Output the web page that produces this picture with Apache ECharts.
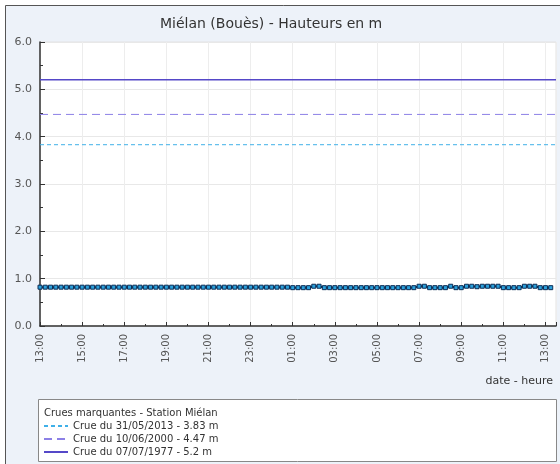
<!DOCTYPE html>
<html><head><meta charset="utf-8">
<script src="https://cdn.jsdelivr.net/npm/echarts@6/dist/echarts.min.js"></script>
<style>html,body{margin:0;padding:0;background:#fff}#c{width:560px;height:464px}</style>
</head><body><div id="c"></div>
<script>
const chartTitle = 'Miélan (Bouès) - Hauteurs en m';
const xAxisName = 'date - heure';
const legendTitle = 'Crues marquantes - Station Miélan';

const times = [
 '13:00','13:15','13:30','13:45','14:00','14:15','14:30','14:45',
 '15:00','15:15','15:30','15:45','16:00','16:15','16:30','16:45',
 '17:00','17:15','17:30','17:45','18:00','18:15','18:30','18:45',
 '19:00','19:15','19:30','19:45','20:00','20:15','20:30','20:45',
 '21:00','21:15','21:30','21:45','22:00','22:15','22:30','22:45',
 '23:00','23:15','23:30','23:45','00:00','00:15','00:30','00:45',
 '01:00','01:15','01:30','01:45','02:00','02:15','02:30','02:45',
 '03:00','03:15','03:30','03:45','04:00','04:15','04:30','04:45',
 '05:00','05:15','05:30','05:45','06:00','06:15','06:30','06:45',
 '07:00','07:15','07:30','07:45','08:00','08:15','08:30','08:45',
 '09:00','09:15','09:30','09:45','10:00','10:15','10:30','10:45',
 '11:00','11:15','11:30','11:45','12:00','12:15','12:30','12:45',
 '13:00','13:15'
];
const levels = [
 0.82,0.82,0.82,0.82,0.82,0.82,0.82,0.82,
 0.82,0.82,0.82,0.82,0.82,0.82,0.82,0.82,
 0.82,0.82,0.82,0.82,0.82,0.82,0.82,0.82,
 0.82,0.82,0.82,0.82,0.82,0.82,0.82,0.82,
 0.82,0.82,0.82,0.82,0.82,0.82,0.82,0.82,
 0.82,0.82,0.82,0.82,0.82,0.82,0.82,0.82,
 0.81,0.81,0.81,0.81,0.84,0.84,0.81,0.81,
 0.81,0.81,0.81,0.81,0.81,0.81,0.81,0.81,
 0.81,0.81,0.81,0.81,0.81,0.81,0.81,0.81,
 0.84,0.84,0.81,0.81,0.81,0.81,0.84,0.81,
 0.81,0.84,0.84,0.83,0.84,0.84,0.84,0.84,
 0.81,0.81,0.81,0.81,0.84,0.84,0.84,0.81,
 0.81,0.81
];
const floodNames = ['Crue du 31/05/2013 - 3.83 m','Crue du 10/06/2000 - 4.47 m','Crue du 07/07/1977 - 5.2 m'];
const floodLevels = [3.83, 4.47, 5.2];
const floodColors = ['#3fb0e8', '#8c80e6', '#5548c8'];
const floodDash = [[4,3], [8,5], 'solid'];

const startHour = 13;
const xMin = 0, xMax = 24.5, xStep = 2;
const yMin = 0, yMax = 6, yStep = 1;

// convert HH:MM labels to hours elapsed since the first label
let prev = -1, dayOffset = 0;
const hoursElapsed = times.map(t => {
  const [h, m] = t.split(':').map(Number);
  let v = ((h - startHour + 24) % 24) + m / 60;
  if (v + dayOffset < prev) dayOffset += 24;
  v += dayOffset; prev = v; return v;
});
const levelData = hoursElapsed.map((x, i) => [x, levels[i]]);

const FONT = 'DejaVu Sans';
const chart = echarts.init(document.getElementById('c'), null, {renderer: 'canvas'});
const series = floodNames.map((n, i) => ({
  name: n, type: 'line', symbol: 'none', silent: true, z: 3,
  data: [[xMin, floodLevels[i]], [xMax, floodLevels[i]]],
  lineStyle: {color: floodColors[i], width: i === 2 ? 1.5 : 1, type: floodDash[i]},
  itemStyle: {color: floodColors[i]}
}));
series.push({
  name: 'Hauteur', type: 'line', z: 5, data: levelData,
  symbol: 'rect', symbolSize: 4, showAllSymbol: true,
  lineStyle: {color: '#0c2d55', width: 2},
  itemStyle: {color: '#2aa0dc', borderColor: '#0c2d55', borderWidth: 1}
});

chart.setOption({
  animation: false,
  backgroundColor: '#ffffff',
  textStyle: {fontFamily: FONT},
  title: {
    text: chartTitle, left: 155, top: 12,
    textStyle: {fontFamily: FONT, fontSize: 14, fontWeight: 'normal', color: '#333'}
  },
  grid: {left: 40, right: 4, top: 42, bottom: 138, show: true,
    backgroundColor: '#ffffff', borderColor: '#e2e2e2', borderWidth: 1},
  xAxis: {
    type: 'value', min: xMin, max: xMax, interval: xStep,
    axisLine: {lineStyle: {color: '#333', width: 1.5}},
    axisTick: {inside: true, length: 4, lineStyle: {color: '#333'}},
    minorTick: {show: true, splitNumber: 2, length: 2, lineStyle: {color: '#333'}},
    splitLine: {show: true, lineStyle: {color: '#ededed'}},
    axisLabel: {
      rotate: 90, margin: 8, fontSize: 10, color: '#555', fontFamily: FONT,
      showMaxLabel: false,
      formatter: v => {
        const h = (startHour + Math.round(v)) % 24;
        return (h < 10 ? '0' : '') + h + ':00';
      }
    }
  },
  yAxis: {
    type: 'value', min: yMin, max: yMax, interval: yStep,
    axisLine: {show: true, lineStyle: {color: '#333', width: 1.5}},
    axisTick: {show: true, inside: true, length: 5, lineStyle: {color: '#333'}},
    minorTick: {show: true, splitNumber: 2, length: 3, lineStyle: {color: '#333'}},
    splitLine: {show: true, lineStyle: {color: '#e8e8e8'}},
    axisLabel: {margin: 8, fontSize: 11, color: '#555', fontFamily: FONT,
      formatter: v => v.toFixed(1)}
  },
  legend: {
    data: floodNames, orient: 'vertical', left: 43, top: 421, padding: 0,
    itemWidth: 24, itemHeight: 8, itemGap: 3, selectedMode: false,
    itemStyle: {opacity: 0},
    textStyle: {fontFamily: FONT, fontSize: 10, color: '#333'}
  },
  graphic: [
    {type: 'rect', z: -10, silent: true,
     shape: {x: 5.5, y: 5.5, width: 600, height: 600},
     style: {fill: '#edf2f9', stroke: '#555', lineWidth: 1}},
    {type: 'rect', z: -5, silent: true,
     shape: {x: 38.5, y: 399.5, width: 518, height: 62},
     style: {fill: '#ffffff', stroke: '#888', lineWidth: 1}},
    {type: 'text', z: 10, silent: true, x: 44, y: 413,
     style: {text: legendTitle, fill: '#333', font: '10px "DejaVu Sans"', verticalAlign: 'middle'}},
    {type: 'text', z: 10, silent: true, x: 553, y: 381,
     style: {text: xAxisName, fill: '#333', font: '11px "DejaVu Sans"', align: 'right', verticalAlign: 'middle'}}
  ],
  series: series
});
</script></body></html>
